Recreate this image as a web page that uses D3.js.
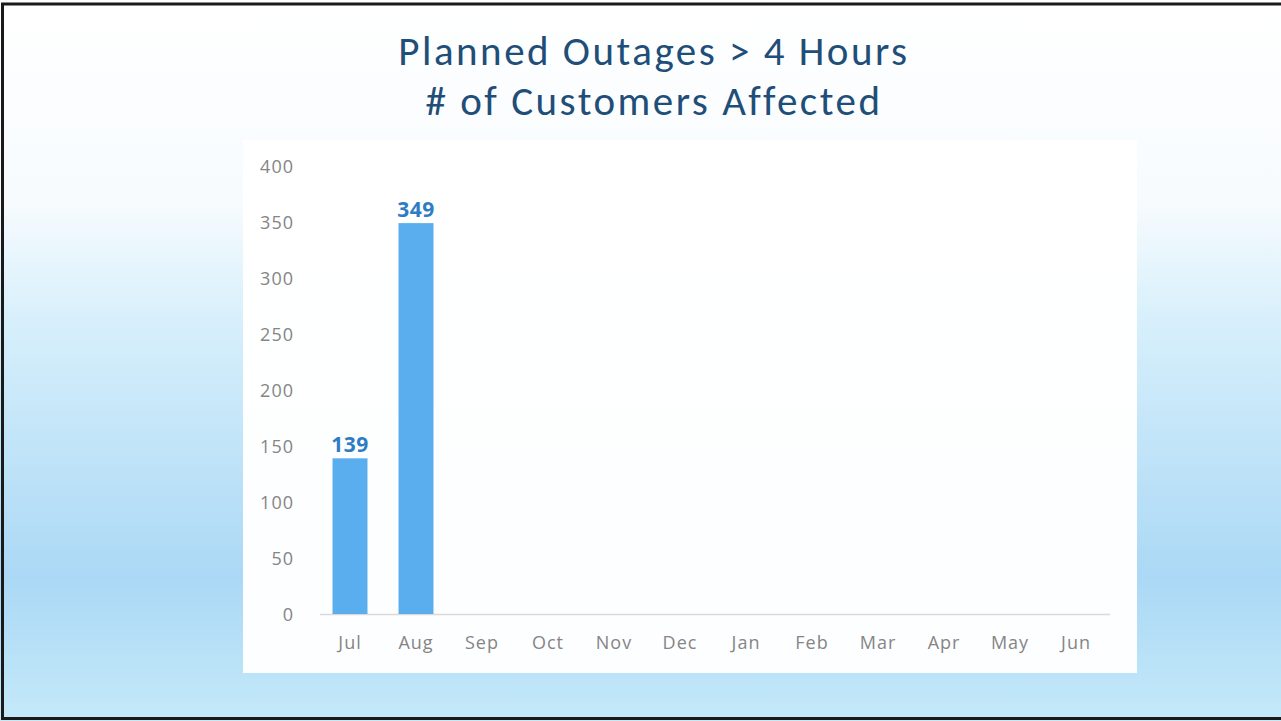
<!DOCTYPE html>
<html>
<head>
<meta charset="utf-8">
<script src="https://cdn.jsdelivr.net/npm/d3@7"></script>
<style>
  html, body { margin: 0; padding: 0; background: #fff; }
  svg { display: block; }
</style>
</head>
<body>
<script>
// chart data
var months = ["Jul", "Aug", "Sep", "Oct", "Nov", "Dec", "Jan", "Feb", "Mar", "Apr", "May", "Jun"];
var customers = [139, 349, null, null, null, null, null, null, null, null, null, null];
var yTicks = [0, 50, 100, 150, 200, 250, 300, 350, 400];
var titleLines = ["Planned Outages > 4 Hours", "# of Customers Affected"];

var W = 1281, H = 721;
var titleFont = "Calibri, Carlito, Lato, sans-serif";
var labelFont = "'Open Sans', 'Noto Sans', sans-serif";

var svg = d3.select("body").append("svg")
    .attr("width", W)
    .attr("height", H);

var defs = svg.append("defs");
var grad = defs.append("linearGradient")
    .attr("id", "bg")
    .attr("x1", 0).attr("y1", 0).attr("x2", 0).attr("y2", 1);
grad.append("stop").attr("offset", "0%").attr("stop-color", "#ffffff");
grad.append("stop").attr("offset", "28%").attr("stop-color", "#f7fbfe");
grad.append("stop").attr("offset", "45%").attr("stop-color", "#d6effb");
grad.append("stop").attr("offset", "80%").attr("stop-color", "#abd8f5");
grad.append("stop").attr("offset", "100%").attr("stop-color", "#c4e9f9");

svg.append("rect")
    .attr("x", 0).attr("y", 0)
    .attr("width", W).attr("height", H)
    .attr("fill", "url(#bg)");

// outer frame
svg.append("path")
    .attr("d", "M" + (W + 2) + ",4 H2.5 V718.5 H" + (W + 2))
    .attr("fill", "none")
    .attr("stroke", "#1a1a1a")
    .attr("stroke-width", 3);

// white chart panel
svg.append("rect")
    .attr("x", 243).attr("y", 140)
    .attr("width", 894).attr("height", 533)
    .attr("fill", "#ffffff")
    .attr("fill-opacity", 0.97);

// title
svg.append("g").selectAll("text")
    .data(titleLines)
    .enter().append("text")
    .attr("x", 654)
    .attr("y", function (d, i) { return 65 + i * 50; })
    .attr("text-anchor", "middle")
    .attr("font-family", titleFont)
    .attr("font-size", 41)
    .attr("letter-spacing", 2.5)
    .attr("fill", "#1f4e79")
    .text(function (d) { return d; });

var x = d3.scaleBand()
    .domain(months)
    .range([317, 1109])
    .paddingInner(0.47)
    .paddingOuter(0.235);

var y = d3.scaleLinear()
    .domain([0, 400])
    .range([614, 166]);

// y axis (labels only)
var yAxis = svg.append("g")
    .attr("transform", "translate(296,1)")
    .call(d3.axisLeft(y).tickValues(yTicks).tickSize(0).tickPadding(2));
yAxis.select(".domain").remove();
yAxis.selectAll("text")
    .attr("font-family", labelFont)
    .attr("font-size", 18)
    .attr("letter-spacing", 1)
    .attr("fill", "#858585");

// x axis
var xAxis = svg.append("g")
    .attr("transform", "translate(0," + y(0) + ")")
    .call(d3.axisBottom(x).tickSize(0).tickPadding(22));
xAxis.select(".domain")
    .attr("d", "M320,0.5H1110")
    .attr("stroke", "#d9d9d9")
    .attr("stroke-width", 1.5);
xAxis.selectAll("text")
    .attr("font-family", labelFont)
    .attr("font-size", 18)
    .attr("letter-spacing", 1)
    .attr("fill", "#858585");

var bars = months.map(function (m, i) { return { month: m, value: customers[i] }; })
    .filter(function (d) { return d.value != null; });

svg.append("g").selectAll("rect")
    .data(bars)
    .enter().append("rect")
    .attr("x", function (d) { return x(d.month); })
    .attr("y", function (d) { return y(d.value); })
    .attr("width", x.bandwidth())
    .attr("height", function (d) { return y(0) - y(d.value); })
    .attr("fill", "#5aaeee");

svg.append("g").selectAll("text")
    .data(bars)
    .enter().append("text")
    .attr("x", function (d) { return x(d.month) + x.bandwidth() / 2; })
    .attr("y", function (d) { return y(d.value) - 6; })
    .attr("text-anchor", "middle")
    .attr("font-family", labelFont)
    .attr("font-weight", "bold")
    .attr("font-size", 21)
    .attr("letter-spacing", 0.5)
    .attr("fill", "#2e7cc4")
    .text(function (d) { return d.value; });
</script>
</body>
</html>
